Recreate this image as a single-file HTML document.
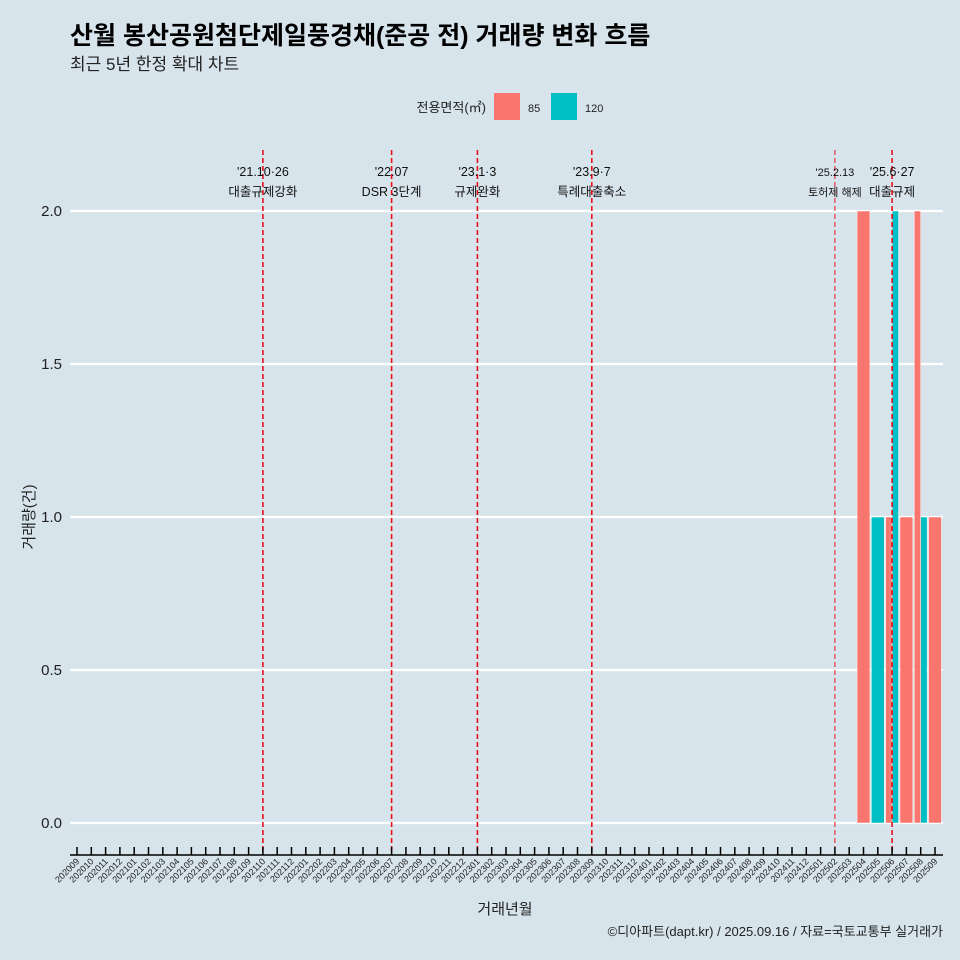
<!DOCTYPE html>
<html><head><meta charset="utf-8"><style>
body{margin:0;background:#d7e4eb;}
svg{display:block;font-family:"Liberation Sans","Noto Sans CJK KR",sans-serif;}
</style></head><body>
<svg id="chart" width="960" height="960" viewBox="0 0 960 960">
<rect width="960" height="960" fill="#d7e4eb"/>
<text x="70" y="44" font-size="25" font-weight="bold" fill="#000">산월 봉산공원첨단제일풍경채(준공 전) 거래량 변화 흐름</text>
<text x="70" y="70" font-size="17" fill="#222">최근 5년 한정 확대 차트</text>
<g>
<text x="486" y="112" font-size="13" text-anchor="end" fill="#222">전용면적(㎡)</text>
<rect x="494" y="93" width="26" height="27" fill="#f8766d"/>
<text x="528" y="112" font-size="11" fill="#222">85</text>
<rect x="551" y="93" width="26" height="27" fill="#00bfc4"/>
<text x="585" y="112" font-size="11" fill="#222">120</text>
</g>
<g id="grid"></g><g id="bars"></g><g id="events"></g><g id="xaxis"></g><g id="yaxis"></g>
<text x="505" y="914" font-size="15" text-anchor="middle" fill="#222">거래년월</text>
<text transform="translate(34,517) rotate(-90)" font-size="15" text-anchor="middle" fill="#222">거래량(건)</text>
<text x="943" y="936" font-size="13" text-anchor="end" fill="#222">©디아파트(dapt.kr) / 2025.09.16 / 자료=국토교통부 실거래가</text>
</svg>
<script>
const months=[];for(let y=2020;y<=2025;y++)for(let m=1;m<=12;m++){const k=y*100+m;if(k>=202009&&k<=202509)months.push(String(k));}
const series=["85","120"];
const colors={"85":"#f8766d","120":"#00bfc4"};
const barMonths=["202504","202505","202506","202506","202507","202508","202508","202509"];
const barSeries=["85","120","85","120","85","85","120","85"];
const barValues=[2,1,1,2,1,2,1,1];
const yTicks=[0,0.5,1,1.5,2];
const yTickLabels=["0.0","0.5","1.0","1.5","2.0"];
const eventMonths=["202110","202207","202301","202309","202502","202506"];
const eventDates=["'21.10·26","'22.07","'23.1·3","'23.9·7","'25.2.13","'25.6·27"];
const eventNames=["대출규제강화","DSR 3단계","규제완화","특례대출축소","토허제 해제","대출규제"];
const NS="http://www.w3.org/2000/svg";
const x0=77,step=14.3,y0=823,yPer=306;
const xs=m=>x0+months.indexOf(m)*step;
const ys=v=>y0-v*yPer;
function mk(t,a,p){const e=document.createElementNS(NS,t);for(const k in a)e.setAttribute(k,a[k]);(p||document.getElementById('chart')).appendChild(e);return e;}
const G=id=>document.getElementById(id);
yTicks.forEach((v,i)=>{
 const l=mk('line',{x1:70,x2:943,y1:ys(v),y2:ys(v),stroke:'#fff','stroke-width':2.2},G('grid'));
 
 
 const t=mk('text',{x:62,y:ys(v)+5,'font-size':15,'text-anchor':'end',fill:'#222'},G('yaxis'));
 t.textContent=yTickLabels[i];
 
 
});
const bw=step*0.9;
barMonths.forEach((m,i)=>{
 const group=barMonths.filter(q=>q===m).length;
 const idx=barMonths.slice(0,i).filter(q=>q===m).length;
 const w=bw/group;
 const r=mk('rect',{x:xs(m)-bw/2+idx*w,y:ys(barValues[i]),width:w,height:barValues[i]*yPer,fill:colors[barSeries[i]],stroke:'#fff','stroke-width':0.5},G('bars'));
 
 
});
eventMonths.forEach((m,i)=>{
 const x=xs(m);const thin=m==="202502";
 const l=mk('line',{x1:x,x2:x,y1:150,y2:855,stroke:'#e8101a','stroke-width':thin?1:1.6,'stroke-dasharray':'5,3'},G('events'));
 
 
 const fs=thin?11:12.5;
 const t1=mk('text',{x:x,y:176,'font-size':fs,'text-anchor':'middle',fill:'#111'},G('events'));
 t1.textContent=eventDates[i];
 
 
 const t2=mk('text',{x:x,y:196,'font-size':fs,'text-anchor':'middle',fill:'#111'},G('events'));
 t2.textContent=eventNames[i];
 
 
});
const ax=mk('line',{x1:70,x2:943,y1:855,y2:855,stroke:'#000','stroke-width':1.5},G('xaxis'));


months.forEach(m=>{
 const x=xs(m);
 const tk=mk('line',{x1:x,x2:x,y1:847,y2:855,stroke:'#000','stroke-width':1.5},G('xaxis'));
 
 
 const t=mk('text',{x:x+3,y:862,'font-size':9,'text-anchor':'end',fill:'#222',transform:`rotate(-45 ${x+3} 862)`},G('xaxis'));
 t.textContent=m;
 
 
});
</script>
</body></html>
